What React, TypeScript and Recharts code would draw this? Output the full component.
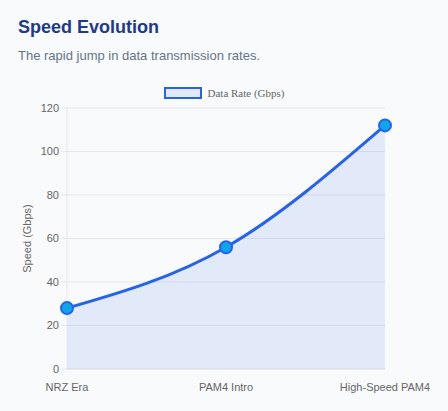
import React from "react";
import { ComposedChart, Area, CartesianGrid, XAxis, YAxis, Legend } from "recharts";

const eras = ["NRZ Era", "PAM4 Intro", "High-Speed PAM4"];
const rates = [28, 56, 112];
const yTicks = [0, 20, 40, 60, 80, 100, 120];

const data = eras.map((era, i) => ({ era, rate: rates[i] }));

const LegendBox = () => (
    <div style={{ display: "flex", justifyContent: "center", alignItems: "center", height: 24, fontFamily: "'Liberation Serif', serif", fontSize: 11, color: "#666" }}>
        <span style={{ display: "inline-block", width: 34, height: 8, background: "#e3e9fb", border: "2px solid #2563eb", marginRight: 6, boxSizing: "content-box" }} />
        Data Rate (Gbps)
    </div>
);

const App: React.FC = () => {
    return (
        <div style={{ position: "fixed", left: 0, top: 0, width: 448, height: 411, background: "#f8fafc", fontFamily: "'Liberation Sans', Arial, sans-serif", overflow: "hidden" }}>
            <div style={{ position: "absolute", left: 18, top: 17, fontSize: 18, fontWeight: 700, color: "#1e3a8a" }}>
                Speed Evolution
            </div>
            <div style={{ position: "absolute", left: 18, top: 48, fontSize: 13, color: "#64748b" }}>
                The rapid jump in data transmission rates.
            </div>
            <div style={{ position: "absolute", left: 0, top: 0 }}>
                <ComposedChart width={448} height={411} data={data} margin={{ top: 81, right: 63, left: 0, bottom: 0 }}>
                    <Legend verticalAlign="top" height={27} content={<LegendBox />} wrapperStyle={{ left: 0, width: 448 }} />
                    <CartesianGrid vertical={false} stroke="#e5e7eb" />
                    <XAxis
                        dataKey="era"
                        height={42}
                        axisLine={{ stroke: "#dcdfe4" }}
                        tickLine={false}
                        tick={{ fill: "#666", fontSize: 11 }}
                        tickMargin={8}
                        interval={0}
                    />
                    <YAxis
                        width={67}
                        domain={[0, 120]}
                        ticks={yTicks}
                        axisLine={{ stroke: "#e5e7eb" }}
                        tickLine={{ stroke: "#e5e7eb" }}
                        tickSize={6}
                        tick={{ fill: "#666", fontSize: 11 }}
                        label={{ value: "Speed (Gbps)", angle: -90, position: "insideLeft", offset: 27, style: { fill: "#666", fontSize: 11, textAnchor: "middle" } }}
                    />
                    <Area
                        type="monotone"
                        dataKey="rate"
                        name="Data Rate (Gbps)"
                        stroke="#2563eb"
                        strokeWidth={3}
                        fill="#2563eb"
                        fillOpacity={0.1}
                        dot={{ r: 6, fill: "#0ea5e9", stroke: "#2563eb", strokeWidth: 2, fillOpacity: 1 }}
                        activeDot={false}
                        isAnimationActive={false}
                    />
                </ComposedChart>
            </div>
        </div>
    );
};

export default App;
